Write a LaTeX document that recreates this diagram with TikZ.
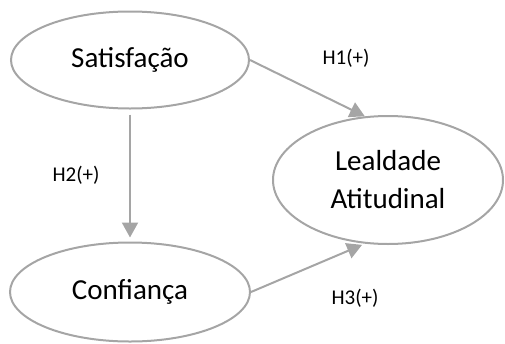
\documentclass[tikz,border=0pt]{standalone}
\usepackage{fontspec}
\setmainfont{Carlito}
\usepackage{tikz}
\usetikzlibrary{arrows.meta,shapes.geometric}
\definecolor{linegray}{RGB}{165,165,165}

\begin{document}
\begin{tikzpicture}[x=1pt, y=-1pt,
        construct/.style={ellipse, draw=linegray, line width=2pt, inner sep=0pt, align=center, font=\fontsize{29}{38}\selectfont},
        hyp/.style={draw=linegray, line width=2pt, -{Triangle[length=15pt,width=16pt]}},
        hlabel/.style={font=\fontsize{21}{25}\selectfont}]
        \useasboundingbox (0,0) rectangle (505,343);

        \node[construct, minimum width=238pt, minimum height=97pt] (sat) at (130, 60) {Satisfação};
        \node[construct, minimum width=240pt, minimum height=99pt] (conf) at (130, 292) {Confiança};
        \node[construct, minimum width=230pt, minimum height=128pt] (leal) at (388, 180) {Lealdade\\Atitudinal};

        \draw[hyp] (sat.east) -- (leal.110);
        \draw[hyp, shorten <=5pt, shorten >=4pt] (sat.south) -- (conf.north);
        \draw[hyp, shorten >=3pt] (conf.east) -- (leal.-110);

        \node[hlabel] (h1) at (346, 58) {H1(+)};
        \node[hlabel] (h2) at (76, 175) {H2(+)};
        \node[hlabel] (h3) at (355, 298) {H3(+)};
    \end{tikzpicture}
\end{document}
